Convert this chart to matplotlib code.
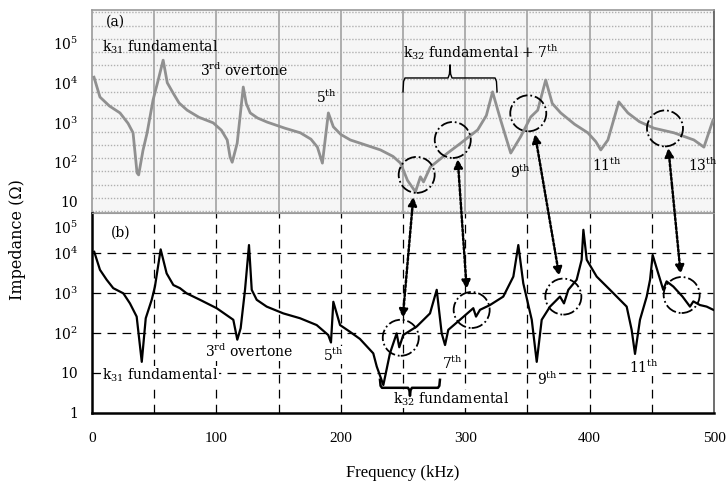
import numpy as np
import matplotlib
matplotlib.use('Agg')
import matplotlib.pyplot as plt
from matplotlib.patches import Circle, ConnectionPatch
from matplotlib import transforms

plt.rcParams['font.family'] = ['DejaVu Serif']
plt.rcParams['mathtext.fontset'] = 'custom'
plt.rcParams['mathtext.rm'] = 'DejaVu Serif'
plt.rcParams['mathtext.it'] = 'DejaVu Serif:italic'
plt.rcParams['mathtext.bf'] = 'DejaVu Serif:bold'

# ---------------- data ----------------
# (a) measured spectrum (scanned trace), frequency kHz / impedance Ohm
top_freq = [1.6, 6.4, 14, 22.5, 29, 33, 36.2, 37.5, 41, 44.3, 49.1, 53, 57.2, 60.5,
            65.2, 70, 76.5, 86, 97.4, 104, 108.7, 111, 112.7, 116.7, 121.6, 124,
            127.2, 133, 140.9, 155, 167.5, 176, 181.2, 185.2, 190, 194, 200,
            207.7, 215.8, 231.9, 242, 248, 253.6, 260, 264, 266.5, 272,
            285.8, 296.3, 310, 317, 322, 328.5, 336.6, 344.6, 352.7, 358.3, 364.7,
            370, 376.8, 388, 398.6, 405, 409, 414.7, 423.5, 430.8, 440, 451.7,
            467.8, 483.9, 491.9, 499.2]
top_imp = [13800, 4370, 2600, 1740, 950, 550, 54, 48, 200, 550, 3700, 11000, 37000, 10000,
           5500, 3100, 2040, 1350, 980, 640, 363, 135, 100, 300, 7800, 3000,
           1740, 1300, 1020, 720, 550, 380, 240, 95, 1740, 780, 500,
           363, 300, 204, 140, 95, 35, 18, 43, 32, 76,
           170, 300, 650, 1500, 5900, 1150, 170, 440, 1380, 2040, 11700,
           3000, 1740, 900, 550, 330, 204, 363, 3300, 1740, 1050, 720,
           550, 363, 240, 1150]

# (b) simulated spectrum
bot_freq = [1.8, 6.4, 11.8, 17.1, 25.2, 30.5, 35.9, 40.0, 43.2, 48.0, 50.6, 55.2,
            60.0, 65.4, 70.7, 76.1, 86.8, 100.2, 113.6, 116.8, 119.5, 123.0, 126.2,
            128.4, 132.4, 140.4, 153.8, 167.2, 180.6, 189.9, 192.1, 194.0, 199.4,
            207.4, 215.4, 226.1, 228.9, 234.2, 239.5, 244.9, 247.0, 250.2, 261.0,
            271.7, 277.1, 281.1, 283.8, 286.4, 295.8, 306.5, 308.7, 311.9, 319.9,
            330.6, 338.7, 342.7, 346.7, 353.5, 357.5, 361.5, 368.2, 376.2, 379.4,
            382.9, 389.6, 393.6, 395.0, 397.7, 405.7, 416.4, 429.8, 433.8, 436.5,
            440.5, 445.9, 448.6, 450.7, 453.9, 459.2, 461.9, 467.3, 474.7, 480.7,
            483.4, 488.7, 494.1, 499.4]
bot_imp = [10700, 3800, 2140, 1320, 980, 550, 257, 19, 234, 676, 1450, 12300,
           3090, 1580, 1320, 980, 676, 417, 214, 68, 132, 1200, 15800,
           1200, 676, 457, 309, 234, 158, 89, 58, 603, 158,
           107, 71, 31, 14.5, 5.0, 31, 98, 44, 89, 145,
           309, 1200, 98, 50, 120, 214, 417, 257, 380, 500,
           813, 2570, 15800, 1740, 214, 19, 214, 457, 813, 550,
           1200, 2140, 6760, 38000, 6760, 2570, 1200, 457, 120, 30,
           214, 813, 2140, 8900, 4170, 1200, 1950, 1450, 813, 457,
           617, 500, 457, 380]

x_ticks = [0, 100, 200, 300, 400, 500]
x_tick_labels = ['0', '100', '200', '300', '400', '500']
top_y_ticks = [10, 1e2, 1e3, 1e4, 1e5]
top_y_labels = ['10', r'$10^2$', r'$10^3$', r'$10^4$', r'$10^5$']
bot_y_ticks = [1, 10, 1e2, 1e3, 1e4]
bot_y_labels = ['1', '10', r'$10^2$', r'$10^3$', r'$10^4$']

# highlighted regions (circles) and their correspondence arrows
top_circle_freq = [261.0, 290.0, 350.7, 460.6]
top_circle_imp = [48, 363, 1700, 710]
bot_circle_freq = [248.2, 305.2, 378.9, 474.0]
bot_circle_imp = [76, 376, 813, 891]
arrow_top_freq = [258.3, 294.0, 356.1, 463.3]
arrow_top_imp = [13.5, 120, 513, 229]
arrow_bot_freq = [249.8, 301.2, 375.6, 473.2]
arrow_bot_imp = [237, 1259, 2660, 2985]

# mode labels: text, freq, impedance
top_labels = [('(a)', 11, 10**5.53),
              (r'k$_{31}$ fundamental', 8, 10**4.9),
              (r'3$^{\rm rd}$ overtone', 87, 10**4.32),
              (r'5$^{\rm th}$', 180, 10**3.64),
              (r'k$_{32}$ fundamental + 7$^{\rm th}$', 250, 10**4.77),
              (r'9$^{\rm th}$', 336, 10**1.75),
              (r'11$^{\rm th}$', 402, 10**1.93),
              (r'13$^{\rm th}$', 479, 10**1.93)]
bot_labels = [('(b)', 15, 10**4.5),
              (r'k$_{31}$ fundamental', 8, 10**0.95),
              (r'3$^{\rm rd}$ overtone', 91, 10**1.53),
              (r'5$^{\rm th}$', 186, 10**1.45),
              (r'7$^{\rm th}$', 281, 10**1.25),
              (r'9$^{\rm th}$', 358, 10**0.83),
              (r'11$^{\rm th}$', 432, 10**1.15),
              (r'k$_{32}$ fundamental', 242, 10**0.35)]

# ---------------- figure ----------------
W, H = 727, 482
fig = plt.figure(figsize=(W / 100, H / 100), dpi=100)
L, R = 92 / W, 714 / W
ax_t = fig.add_axes([L, 1 - 213 / H, R - L, 203 / H])
ax_b = fig.add_axes([L, 1 - 413 / H, R - L, 200 / H])

FS = 10

# top panel (scanned look)
ax_t.set_facecolor('#f6f6f6')
ax_t.set_yscale('log')
ax_t.set_xlim(0, 500)
ax_t.set_ylim(10**0.723, 10**5.83)
for xv in np.arange(50, 500, 50):
    ax_t.axvline(xv, color='#a8a8a8', lw=1.3, zorder=1)
for yv in 10 ** np.arange(0.77, 5.83, 1 / 3):
    ax_t.axhline(yv, color='#b0b0b0', lw=1.0, ls=(0, (1, 1.2)), zorder=1)
ax_t.plot(top_freq, top_imp, color='#909090', lw=2.0, zorder=3,
          solid_joinstyle='round')
ax_t.set_xticks([])
ax_t.set_yticks(top_y_ticks)
ax_t.set_yticklabels(top_y_labels, fontsize=FS)
ax_t.yaxis.set_minor_locator(matplotlib.ticker.NullLocator())
ax_t.tick_params(axis='y', length=0, pad=10)
for s in ax_t.spines.values():
    s.set_color('#9a9a9a')
    s.set_linewidth(1.2)
ax_t.spines['right'].set_color('#555555')

# bottom panel
ax_b.set_yscale('log')
ax_b.set_xlim(0, 500)
ax_b.set_ylim(1, 1e5)
for xv in np.arange(50, 500, 50):
    ax_b.axvline(xv, color='black', lw=0.9, ls=(0, (7, 5)), zorder=1)
for yv in [10, 1e2, 1e3, 1e4]:
    ax_b.axhline(yv, color='black', lw=0.9, ls=(0, (7, 5)), zorder=1)
ax_b.plot(bot_freq, bot_imp, color='black', lw=1.6, zorder=3)
ax_b.set_xticks(x_ticks)
ax_b.set_xticklabels(x_tick_labels, fontsize=11, family='Liberation Serif')
ax_b.set_yticks(bot_y_ticks)
ax_b.set_yticklabels(bot_y_labels, fontsize=FS)
ax_b.yaxis.set_minor_locator(matplotlib.ticker.NullLocator())
ax_b.tick_params(axis='y', length=0, pad=10)
ax_b.tick_params(axis='x', length=0, pad=14)
ax_b.annotate(r'$10^5$', xy=(0, 1e5), xycoords=ax_b.get_yaxis_transform(),
              xytext=(-10, -11), textcoords='offset points',
              ha='right', va='center', fontsize=FS)
ax_b.spines['left'].set_linewidth(1.8)
ax_b.spines['bottom'].set_linewidth(1.8)
ax_b.spines['right'].set_color('#555555')
ax_b.spines['right'].set_linewidth(1.2)
ax_b.spines['top'].set_color('#9a9a9a')

for txt, fx, fy in top_labels:
    ax_t.text(fx, fy, txt, fontsize=FS, ha='left', va='center', zorder=5)
for txt, fx, fy in bot_labels:
    ax_b.text(fx, fy, txt, fontsize=FS, ha='left', va='center', zorder=5,
              bbox=dict(boxstyle='square,pad=0.05', fc='white', ec='none'))

# braces
def brace(ax, x0, x1, ybase, ymid, ytip, lw):
    xm = (x0 + x1) / 2
    d = 1.6
    xs = [x0, x0 + d * 0.3, x0 + d, xm - d, xm - d * 0.3, xm,
          xm + d * 0.3, xm + d, x1 - d, x1 - d * 0.3, x1]
    ly = [ybase, ymid + (ybase - ymid) * 0.25, ymid, ymid,
          ymid + (ytip - ymid) * 0.3, ytip,
          ymid + (ytip - ymid) * 0.3, ymid, ymid,
          ymid + (ybase - ymid) * 0.25, ybase]
    ax.plot(xs, [10**v for v in ly], color='black', lw=lw, zorder=5,
            solid_joinstyle='round')

brace(ax_t, 250, 325.6, 3.77, 4.12, 4.45, 1.0)
brace(ax_b, 231.5, 279.7, 0.83, 0.63, 0.43, 1.8)

# circles
R_IN = 0.18
for ax, fr, im in [(ax_t, top_circle_freq, top_circle_imp),
                   (ax_b, bot_circle_freq, bot_circle_imp)]:
    for f, z in zip(fr, im):
        tr = fig.dpi_scale_trans + transforms.ScaledTranslation(f, z, ax.transData)
        c = Circle((0, 0), R_IN, transform=tr, fill=False, ec='black',
                   lw=1.3, ls='-.', zorder=6, clip_on=False)
        ax.add_patch(c)

# arrows
for ft, zt, fb, zb in zip(arrow_top_freq, arrow_top_imp, arrow_bot_freq, arrow_bot_imp):
    con = ConnectionPatch(xyA=(ft, zt), coordsA=ax_t.transData,
                          xyB=(fb, zb), coordsB=ax_b.transData,
                          arrowstyle='<|-|>,head_length=0.5,head_width=0.25',
                          mutation_scale=10, lw=1.8, ls=(0, (1, 0.8)),
                          color='black', fc='black', zorder=7)
    fig.add_artist(con)

fig.text(18 / W, 1 - 240 / H, 'Impedance (Ω)', rotation=90, ha='center',
         va='center', fontsize=11.5)
fig.text((92 + 714) / 2 / W, 1 - 473 / H, 'Frequency (kHz)', ha='center',
         va='center', fontsize=12, family='Liberation Serif')

fig.savefig('out.png', dpi=100)
